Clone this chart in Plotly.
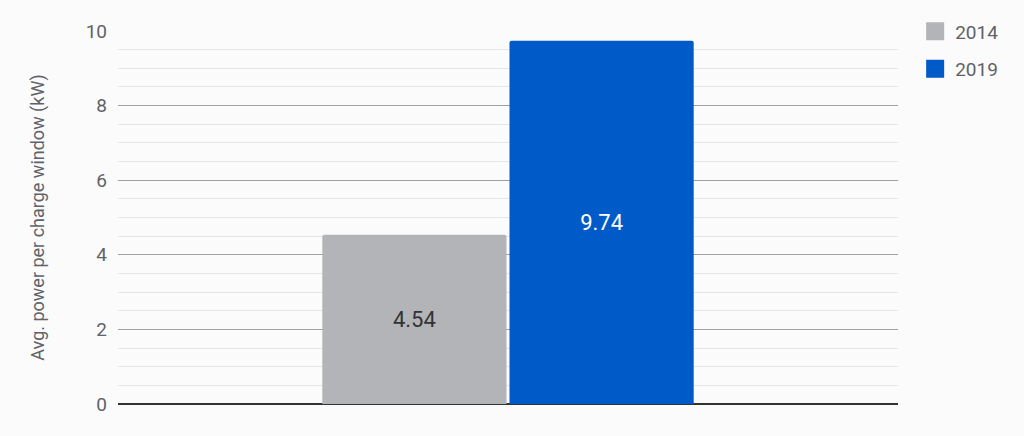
import plotly.graph_objects as go

# data
category = ['Avg. power']
series_names = ['2014', '2019']
series_values = [[4.54], [9.74]]
series_colors = ['#b3b4b7', '#005ac8']
label_colors = ['#333333', '#ffffff']

bg = '#fbfbfb'

fig = go.Figure()

for name, vals, col, lcol in zip(series_names, series_values, series_colors, label_colors):
    fig.add_trace(
        go.Bar(x=category, y=vals, name=name, marker_color=col, marker_line_width=0,
               text=[f'{v:.2f}' for v in vals], textposition='inside', insidetextanchor='middle',
               textfont=dict(color=lcol, size=22, family='Roboto'), hoverinfo='skip',
               showlegend=False)
    )
    # legend proxy with a bigger square swatch
    fig.add_trace(
        go.Scatter(x=[None], y=[None], mode='markers', name=name, legendgroup=name,
                   marker=dict(symbol='square', size=16, color=col, line=dict(color=col, width=2)))
    )

fig.update_layout(
    width=1016, height=428,
    margin=dict(l=110, r=126, t=23, b=32, autoexpand=False),
    paper_bgcolor=bg, plot_bgcolor=bg,
    font=dict(family='Roboto', color='#5f6368', size=19),
    barmode='group', bargap=0.52, bargroupgap=0.016, barcornerradius=2,
    legend=dict(x=1.022, y=0.99, yref='container', xanchor='left', yanchor='top', font=dict(size=19),
                itemsizing='trace', traceorder='grouped', tracegroupgap=10),
    xaxis=dict(showticklabels=False, showgrid=False, zeroline=False),
    yaxis=dict(range=[0, 10], tick0=0, dtick=2, showgrid=True, gridcolor='#a0a0a0', gridwidth=1,
               zeroline=True, zerolinecolor='#333333', zerolinewidth=2, ticks='', ticklabelstandoff=10,
               minor=dict(dtick=0.5, showgrid=True, gridcolor='#e6e6e6', gridwidth=1),
               title=dict(text='Avg. power per charge window (kW)', font=dict(size=18), standoff=36)),
)

fig.write_html('out.html', post_script="document.body.style.background='" + bg + "';")
